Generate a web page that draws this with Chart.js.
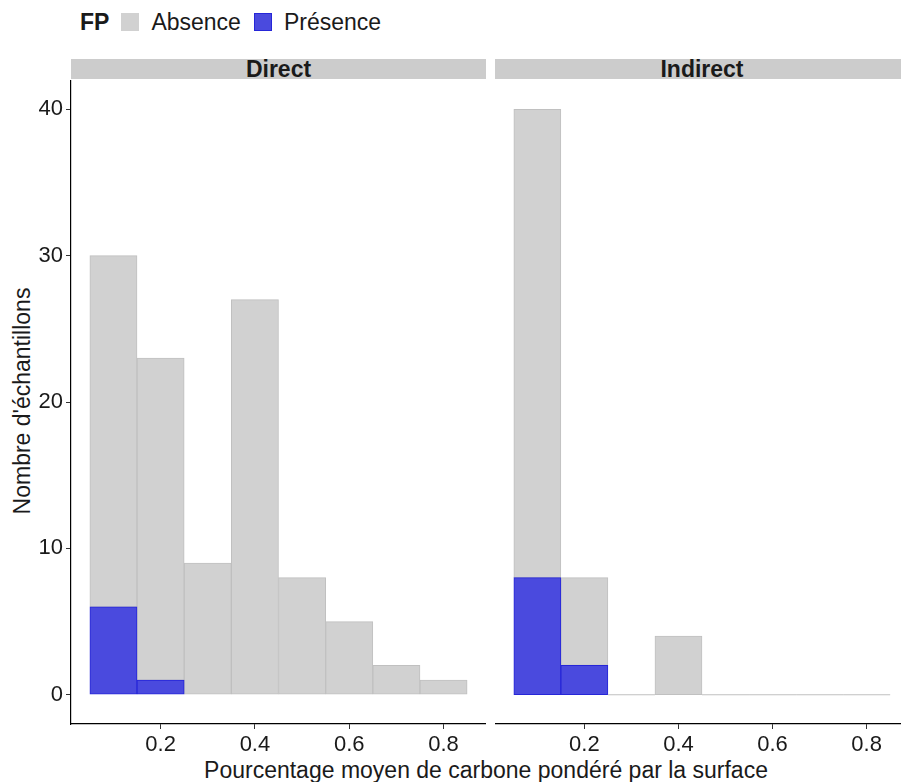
<!DOCTYPE html>
<html lang="fr">
  <head>
    <meta charset="UTF-8" />
    <meta name="viewport" content="width=device-width, initial-scale=1.0" />
    <script src="https://cdn.jsdelivr.net/npm/chart.js"></script>
    <title>FP histogram</title>
    <style>
      html, body { margin: 0; padding: 0; background: #fff; overflow: hidden; }
      .page {
        position: relative;
        width: 901px;
        height: 782px;
        overflow: hidden;
        font-family: "Liberation Sans", Arial, sans-serif;
        color: #1a1a1a;
      }
      .legend { position: absolute; top: 10px; left: 80px; height: 24px; display: flex; align-items: center; font-size: 23px; }
      .legend b { margin-right: 12px; }
      .legend .key { width: 18px; height: 18px; box-sizing: border-box; margin-right: 12px; }
      .legend .lbl { margin-right: 13px; }
      .strip {
        position: absolute;
        top: 59px;
        height: 20px;
        background: #cccccc;
        font-weight: bold;
        font-size: 23px;
        line-height: 21px;
        text-align: center;
      }
      .ytitle {
        position: absolute;
        left: 22px;
        top: 401px;
        transform: translate(-50%, -50%) rotate(-90deg);
        white-space: nowrap;
        font-size: 23px;
      }
      .xtitle { position: absolute; left: 0; width: 972px; top: 757px; text-align: center; font-size: 23px; white-space: nowrap; }
      canvas { position: absolute; }
    </style>
  </head>
  <body>
    <div class="page">
      <div class="legend">
        <b>FP</b>
        <div class="key" style="background:#d1d1d1"></div><span class="lbl">Absence</span>
        <div class="key" style="background:#4a4ade;border:1px solid #2626d8"></div><span class="lbl">Présence</span>
      </div>
      <div class="strip" style="left:71px;width:415px">Direct</div>
      <div class="strip" style="left:495px;width:414px">Indirect</div>
      <div class="ytitle">Nombre d'échantillons</div>
      <div class="xtitle">Pourcentage moyen de carbone pondéré par la surface</div>
      <div id="wrapLeft" style="position:absolute;left:0;top:80px;width:486px;height:680px">
        <canvas id="directChart"></canvas>
      </div>
      <div id="wrapRight" style="position:absolute;left:495px;top:80px;width:414px;height:680px">
        <canvas id="indirectChart"></canvas>
      </div>
    </div>

    <script>
      // bin centres (width 0.1) and counts per panel
      const binCenters = [0.1, 0.2, 0.3, 0.4, 0.5, 0.6, 0.7, 0.8];
      const directPresence = [6, 1, 0, 0, 0, 0, 0, 0];
      const directAbsence = [24, 22, 9, 27, 8, 5, 2, 1];
      const indirectPresence = [8, 2, 0, 0, 0, 0, 0, 0];
      const indirectAbsence = [32, 6, 0, 4, 0, 0, 0, 0];
      const xTicks = [0.2, 0.4, 0.6, 0.8];
      const yTicks = [0, 10, 20, 30, 40];

      const greyFill = "#d1d1d1";
      const greyLine = "#c0c0c0";
      const blueFill = "#4a4ade";
      const blueLine = "#2626d8";
      const textColor = "#1a1a1a";

      // ggplot draws empty bins as a flat outline, chart.js draws nothing
      const emptyBins = {
        id: "emptyBins",
        afterDatasetsDraw(chart) {
          const meta = chart.getDatasetMeta(1);
          const pres = chart.data.datasets[0].data;
          const ctx = chart.ctx;
          ctx.save();
          ctx.strokeStyle = greyLine;
          ctx.lineWidth = 1.2;
          meta.data.forEach((bar, i) => {
            const total = pres[i].y + chart.data.datasets[1].data[i].y;
            if (total !== 0) return;
            ctx.beginPath();
            ctx.moveTo(bar.x - bar.width / 2, bar.y);
            ctx.lineTo(bar.x + bar.width / 2, bar.y);
            ctx.stroke();
          });
          ctx.restore();
        },
      };

      function makeChart(id, presence, absence, showY) {
        const toPoints = (arr) => arr.map((v, i) => ({ x: binCenters[i], y: v }));
        return new Chart(document.getElementById(id), {
          type: "bar",
          data: {
            datasets: [
              {
                label: "Présence",
                data: toPoints(presence),
                backgroundColor: blueFill,
                borderColor: blueLine,
                borderWidth: 1,
                borderSkipped: false,
              },
              {
                label: "Absence",
                data: toPoints(absence),
                backgroundColor: greyFill,
                borderColor: greyLine,
                borderWidth: 1,
                borderSkipped: false,
              },
            ],
          },
          options: {
            responsive: true,
            maintainAspectRatio: false,
            animation: false,
            layout: { padding: 0 },
            barPercentage: 1,
            categoryPercentage: 1,
            plugins: { legend: { display: false }, tooltip: { enabled: false } },
            scales: {
              x: {
                type: "linear",
                offset: false,
                stacked: true,
                min: 0.01,
                max: 0.89,
                afterBuildTicks: (axis) => { axis.ticks = xTicks.map((v) => ({ value: v })); },
                afterFit: (axis) => {
                  axis.height = 36;
                  axis.paddingLeft = 0;
                  axis.paddingRight = 0;
                },
                grid: { display: true, offset: false, drawOnChartArea: false, tickLength: 5, color: "#333" },
                border: { display: true, color: "#000", width: 1.2 },
                ticks: {
                  padding: 3,
                  color: textColor,
                  font: { family: "Liberation Sans", size: 22 },
                  callback: (v) => v.toFixed(1),
                },
              },
              y: {
                display: showY,
                stacked: true,
                min: -2,
                max: 42,
                afterBuildTicks: (axis) => { axis.ticks = yTicks.map((v) => ({ value: v })); },
                afterFit: (axis) => {
                  axis.width = showY ? 71 : 0;
                  axis.paddingTop = 0;
                  axis.paddingBottom = 0;
                },
                grid: { display: true, drawOnChartArea: false, tickLength: 5, color: "#333" },
                border: { display: true, color: "#000", width: 1.2 },
                ticks: {
                  padding: 3,
                  color: textColor,
                  font: { family: "Liberation Sans", size: 22 },
                },
              },
            },
          },
          plugins: [emptyBins],
        });
      }

      makeChart("directChart", directPresence, directAbsence, true);
      makeChart("indirectChart", indirectPresence, indirectAbsence, false);
    </script>
  </body>
</html>
